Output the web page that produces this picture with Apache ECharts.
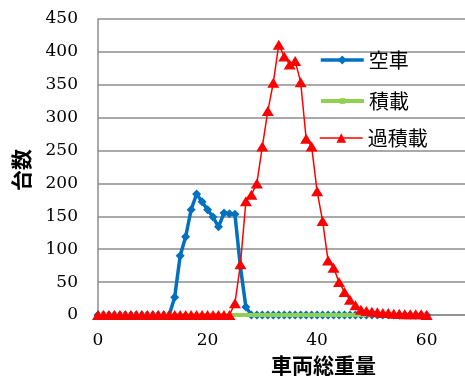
<!DOCTYPE html>
<html style="height: 100%">
<head>
    <meta charset="utf-8">
    <title>車両総重量の分布</title>
</head>
<body style="height: 100%; margin: 0; background: #fff">
    <div id="container" style="width: 465px; height: 381px"></div>
    <script src="https://cdn.jsdelivr.net/npm/echarts@6/dist/echarts.min.js"></script>
    <script type="text/javascript">
        // 横軸は 0〜60 t を 1 t 刻み
        var xStart = 0;
        var seriesNames = ['空車', '積載', '過積載'];
        // 空車
        var emptyVals = [0, 0, 0, 0, 0, 0, 0, 0, 0, 0, 0, 0, 0, 0, 27, 90, 119, 160, 184, 172,
            160, 149, 134, 155, 154, 153, 73, 12, 0, 0, 0, 0, 0, 0, 0, 0, 0, 0, 0, 0,
            0, 0, 0, 0, 0, 0, 0, 0, 0, 0, 0, 0, 0, 0, 0, 0, 0, 0, 0, 0, 0];
        // 積載
        var loadedVals = [0, 0, 0, 0, 0, 0, 0, 0, 0, 0, 0, 0, 0, 0, 0, 0, 0, 0, 0, 0,
            0, 0, 0, 0, 0, 0, 0, 0, 0, 0, 0, 0, 0, 0, 0, 0, 0, 0, 0, 0,
            0, 0, 0, 0, 0, 0, 0, 0, 0, 0, 0, 0, 0, 0, 0, 0, 0, 0, 0, 0, 0];
        // 過積載
        var overVals = [0, 0, 0, 0, 0, 0, 0, 0, 0, 0, 0, 0, 0, 0, 0, 0, 0, 0, 0, 0,
            0, 0, 0, 0, 0, 18, 77, 173, 183, 200, 256, 310, 353, 411, 393, 381, 386, 354, 268, 256,
            188, 143, 83, 72, 50, 35, 23, 15, 8, 6, 5, 4, 3, 3, 2, 2, 1, 1, 1, 1, 0];

        function pairs(vals) {
            return vals.map(function (v, i) { return [xStart + i, v]; });
        }

        var gridColor = '#8c8c8c';
        var numFont = 'DejaVu Serif';
        var jpFont = 'Noto Sans CJK JP';

        // 凡例は項目ごとにマーカーの大きさが違うので 3 つに分ける
        function legendItem(name, top, markH, lineW) {
            return {
                orient: 'vertical',
                left: 314,
                top: top,
                itemWidth: 43,
                itemHeight: markH,
                lineStyle: { width: lineW },
                data: [name],
                textStyle: { fontFamily: jpFont, fontSize: 20, color: '#000', lineHeight: 20 }
            };
        }

        var myChart = echarts.init(document.getElementById('container'));
        var option = {
            animation: false,
            grid: { left: 98, right: 0, top: 19, bottom: 63 },
            legend: [
                legendItem(seriesNames[0], 45, 11, 3.5),
                legendItem(seriesNames[1], 86, 7, 4),
                legendItem(seriesNames[2], 123, 12, 1.5)
            ],
            xAxis: {
                type: 'value',
                min: 0,
                max: 67,
                interval: 20,
                name: '車両総重量',
                nameLocation: 'middle',
                nameGap: 40,
                nameTextStyle: { fontFamily: jpFont, fontSize: 21, fontWeight: 'bold', color: '#000', padding: [0, 0, 0, 84] },
                axisLine: { lineStyle: { color: gridColor, width: 1.5 } },
                axisTick: { show: false },
                splitLine: { show: false },
                axisLabel: { fontFamily: numFont, fontSize: 17, color: '#000', margin: 17, showMaxLabel: false }
            },
            yAxis: {
                type: 'value',
                min: 0,
                max: 450,
                interval: 50,
                name: '台数',
                nameLocation: 'middle',
                nameRotate: 90,
                nameGap: 66,
                nameTextStyle: { fontFamily: jpFont, fontSize: 21, fontWeight: 'bold', color: '#000', padding: [0, 6, 0, 0] },
                axisLine: { show: true, lineStyle: { color: gridColor, width: 1.5 } },
                axisTick: { show: false },
                splitLine: { lineStyle: { color: gridColor, width: 1.5 } },
                axisLabel: { fontFamily: numFont, fontSize: 17, color: '#000', margin: 20 }
            },
            series: [
                {
                    name: seriesNames[0],
                    type: 'line',
                    data: pairs(emptyVals),
                    symbol: 'diamond',
                    symbolSize: 9,
                    itemStyle: { color: '#0070c0' },
                    lineStyle: { color: '#0070c0', width: 3.5 },
                    z: 2
                },
                {
                    name: seriesNames[1],
                    type: 'line',
                    data: pairs(loadedVals),
                    symbol: 'rect',
                    symbolSize: [4, 4],
                    itemStyle: { color: '#92d050' },
                    lineStyle: { color: '#92d050', width: 4 },
                    z: 3
                },
                {
                    name: seriesNames[2],
                    type: 'line',
                    data: pairs(overVals),
                    symbol: 'triangle',
                    symbolSize: [12, 10],
                    itemStyle: { color: '#ff0000' },
                    lineStyle: { color: '#ff0000', width: 1.5 },
                    z: 4
                }
            ]
        };
        myChart.setOption(option);
    </script>
</body>
</html>
